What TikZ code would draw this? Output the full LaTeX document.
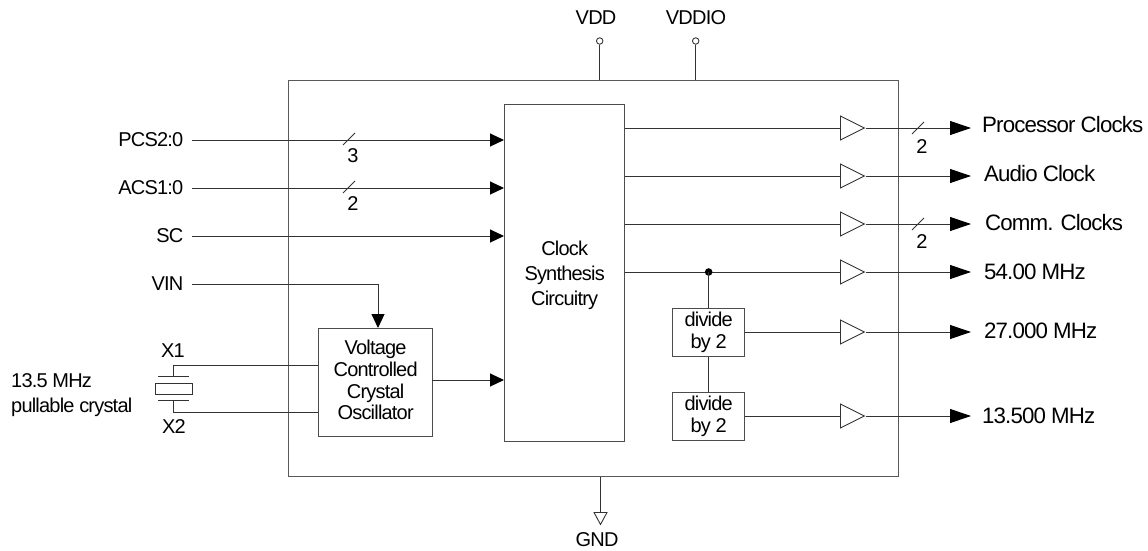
\documentclass[tikz,border=0pt]{standalone}
\usepackage{xcolor}
\usepackage{fontspec}
\setmainfont[LetterSpace=-4]{Liberation Sans}
\usetikzlibrary{arrows.meta, shapes.geometric}
\tikzset{
    wire/.style={line width=1pt, black!80},
    inarrow/.style={wire, -{Triangle[length=14pt, width=13pt, color=black]}},
    outarrow/.style={wire, -{Triangle[length=21pt, width=14pt, color=black]}},
    block/.style={draw=black!70, line width=1.3pt, inner sep=0pt, align=center, font=\fontsize{20}{21.7}\selectfont},
    buffer/.style={draw=black!80, line width=0.9pt, shape=isosceles triangle, isosceles triangle stretches, minimum width=24pt, minimum height=24pt, inner sep=0pt, anchor=lower side},
    sigin/.style={anchor=east, inner sep=0pt, inner xsep=8pt, font=\fontsize{20}{22}\selectfont},
    sigout/.style={anchor=west, inner sep=0pt, inner xsep=12pt, font=\fontsize{22.3}{24}\selectfont},
    small/.style={inner sep=0pt, align=center, font=\fontsize{20}{22}\selectfont},
    slash/.style={line width=0.9pt, black!80}
}

\begin{document}
\begin{tikzpicture}[x=1pt, y=-1pt]
    \useasboundingbox (0,0) rectangle (1148,551);

    % Chip outline
    \node[draw=black!65, line width=1.4pt, minimum width=610pt, minimum height=396pt, inner sep=0pt, anchor=north west] (chip) at (288,80) {};

    % Blocks
    \node[block, minimum width=120pt, minimum height=337pt, anchor=north west, font=\fontsize{20}{25}\selectfont] (clock) at (504,103.5) {\rule{0pt}{19pt}Clock\\Synthesis\\Circuitry};
    \node[block, minimum width=114pt, minimum height=108pt, anchor=north west] (vcxo) at (318,328) {Voltage\\Controlled\\Crystal\\Oscillator\rule[-5pt]{0pt}{0pt}};
    \node[block, minimum width=72pt, minimum height=48pt, anchor=north west] (div1) at (672,308) {divide\\by 2};
    \node[block, minimum width=72pt, minimum height=48pt, anchor=north west] (div2) at (672,392) {divide\\by 2};

    % Inputs
    \node[sigin] (pcs) at (191.5,140) {PCS2:0};
    \node[sigin] (acs) at (191.5,188) {ACS1:0};
    \node[sigin] (sc) at (191.5,236) {SC};
    \node[sigin] (vin) at (191.5,284) {VIN};
    \coordinate (vintop) at (378,328);
    \coordinate (vcxoout) at (432,380);
    \draw[inarrow] (pcs.east) -- (pcs.east -| clock.west);
    \draw[inarrow] (acs.east) -- (acs.east -| clock.west);
    \draw[inarrow] (sc.east) -- (sc.east -| clock.west);
    \draw[inarrow] (vin.east) -| (vintop);
    \draw[inarrow] (vcxoout) -- (vcxoout -| clock.west);

    % Bus marks on the inputs
    \draw[slash] (343,145) -- (355,133);
    \node[small] (pcsn) at (353,156) {3};
    \draw[slash] (343,193) -- (355,181);
    \node[small] (acsn) at (353,204) {2};

    % Buffers
    \node[buffer] (buf1) at (840,128) {};
    \node[buffer] (buf2) at (840,176) {};
    \node[buffer] (buf3) at (840,224) {};
    \node[buffer] (buf4) at (840,272) {};
    \node[buffer] (buf5) at (840,332) {};
    \node[buffer] (buf6) at (840,416) {};

    % Clock block to buffers
    \draw[wire] (clock.east |- buf1.lower side) -- (buf1.lower side);
    \draw[wire] (clock.east |- buf2.lower side) -- (buf2.lower side);
    \draw[wire] (clock.east |- buf3.lower side) -- (buf3.lower side);
    \draw[wire] (clock.east |- buf4.lower side) -- (buf4.lower side);
    \draw[wire] (div1.east |- buf5.lower side) -- (buf5.lower side);
    \draw[wire] (div2.east |- buf6.lower side) -- (buf6.lower side);

    % Dividers
    \fill[black] (div1.north |- buf4.lower side) circle (3.8pt) coordinate (tap);
    \draw[wire] (tap) -- (div1.north);
    \draw[wire] (div1.south) -- (div2.north);

    % Outputs
    \node[sigout] (out1) at (970,125) {Processor Clocks};
    \node[sigout] (out2) at (972,174) {Audio Clock};
    \node[sigout] (out3) at (973,223) {Comm. Clocks};
    \node[sigout] (out4) at (972,272) {54.00 MHz};
    \node[sigout] (out5) at (972,331) {27.000 MHz};
    \node[sigout] (out6) at (970,416) {13.500 MHz};
    \draw[outarrow] (buf1.apex) -- (971,128);
    \draw[outarrow] (buf2.apex) -- (971,176);
    \draw[outarrow] (buf3.apex) -- (971,224);
    \draw[outarrow] (buf4.apex) -- (971,272);
    \draw[outarrow] (buf5.apex) -- (971,332);
    \draw[outarrow] (buf6.apex) -- (971,416);

    % Bus marks on the outputs
    \draw[slash] (912,134) -- (924,122);
    \node[small] (out1n) at (922,147) {2};
    \draw[slash] (912,230) -- (924,218);
    \node[small] (out3n) at (922,242) {2};

    % Crystal
    \node[draw=black!80, line width=1pt, minimum width=37pt, minimum height=11pt, inner sep=0pt] (xtal) at (173.5,388.5) {};
    \coordinate (plate1) at (173.5,376);
    \coordinate (plate2) at (173.5,400);
    \draw[wire] (158,376) -- (189,376);
    \draw[wire] (158,400) -- (189,400);
    \draw[wire] (plate1) |- (vcxo.west |- 0,365);
    \draw[wire] (plate2) |- (vcxo.west |- 0,412);
    \node[small] (x1) at (173,351) {X1};
    \node[small] (x2) at (174,427) {X2};
    \node[small, align=left, anchor=west] (xlabel) at (11,395.5) {13.5 MHz\\[3pt]pullable crystal};

    % Power pins
    \node[small] (vdd) at (596,18) {VDD};
    \node[small] (vddio) at (696,18) {VDDIO};
    \node[draw=black!80, line width=0.9pt, circle, minimum size=6.5pt, inner sep=0pt] (vddpin) at (599.7,41) {};
    \node[draw=black!80, line width=0.9pt, circle, minimum size=6.5pt, inner sep=0pt] (vddiopin) at (695.7,41) {};
    \draw[wire] (vddpin) -- (vddpin |- chip.north);
    \draw[wire] (vddiopin) -- (vddiopin |- chip.north);

    % Ground
    \node[draw=black!80, line width=0.9pt, shape=isosceles triangle, isosceles triangle stretches, shape border rotate=-90, minimum width=13pt, minimum height=12pt, inner sep=0pt, anchor=lower side] (gndpin) at (600.5,512) {};
    \draw[wire] (gndpin.lower side |- chip.south) -- (gndpin.lower side);
    \node[small] (gnd) at (597,540) {GND};
\end{tikzpicture}
\end{document}
